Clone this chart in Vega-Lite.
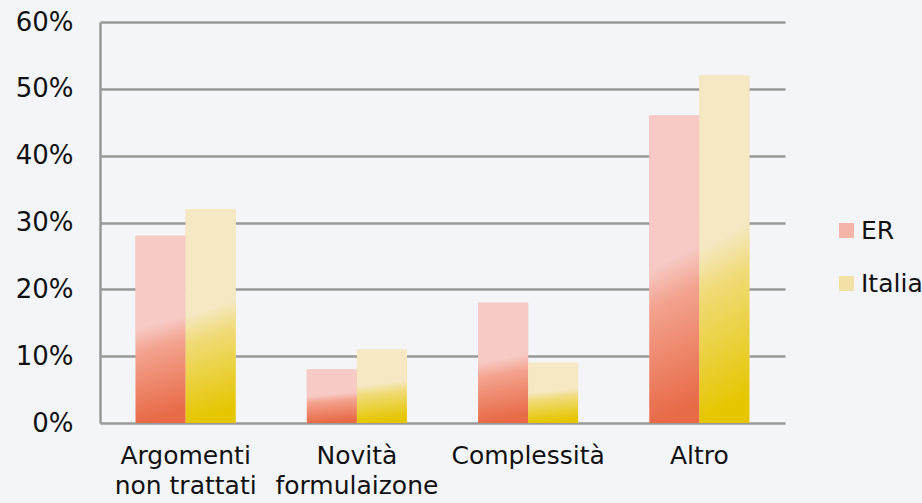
{
  "$schema": "https://vega.github.io/schema/vega-lite/v6.json",
  "width": 685,
  "height": 401,
  "autosize": {"type": "none"},
  "padding": {"left": 100, "top": 22, "right": 137, "bottom": 80},
  "background": "#f4f5f8",
  "data": {
    "values": [
      {"cat": "Argomenti|non trattati", "series": "ER", "value": 28},
      {"cat": "Argomenti|non trattati", "series": "Italia", "value": 32},
      {"cat": "Novità|formulaizone", "series": "ER", "value": 8},
      {"cat": "Novità|formulaizone", "series": "Italia", "value": 11},
      {"cat": "Complessità", "series": "ER", "value": 18},
      {"cat": "Complessità", "series": "Italia", "value": 9},
      {"cat": "Altro", "series": "ER", "value": 46},
      {"cat": "Altro", "series": "Italia", "value": 52}
    ]
  },
  "config": {
    "view": {"stroke": null},
    "font": "DejaVu Sans"
  },
  "encoding": {
    "x": {
      "field": "cat",
      "type": "nominal",
      "sort": null,
      "scale": {"paddingInner": 0.416, "paddingOuter": 0.208},
      "axis": {
        "title": null,
        "labelAngle": 0,
        "labelExpr": "split(datum.label, '|')",
        "labelFontSize": 25,
        "labelColor": "#111111",
        "labelPadding": 20,
        "labelLineHeight": 30,
        "ticks": false,
        "domain": false,
        "labelFont": "DejaVu Sans"
      }
    },
    "xOffset": {"field": "series", "type": "nominal", "scale": {"paddingInner": 0, "paddingOuter": 0}},
    "y": {
      "field": "value",
      "type": "quantitative",
      "scale": {"domain": [0, 60], "nice": false},
      "axis": {
        "title": null,
        "values": [0, 10, 20, 30, 40, 50, 60],
        "labelExpr": "datum.value + '%'",
        "labelFontSize": 26,
        "labelColor": "#111111",
        "labelPadding": 27,
        "ticks": false,
        "domain": true,
        "domainColor": "#999999",
        "domainWidth": 2.5,
        "grid": true,
        "gridColor": "#999999",
        "gridWidth": 2.5,
        "labelFont": "DejaVu Sans"
      }
    }
  },
  "layer": [
    {
      "mark": {"type": "bar"},
      "encoding": {
        "color": {
          "field": "series",
          "type": "nominal",
          "scale": {"domain": ["ER", "Italia"], "range": ["#f5b4a8", "#f2e0a6"]},
          "legend": {
            "title": null,
            "orient": "none",
            "legendX": 734,
            "legendY": 196,
            "padding": 0,
            "symbolType": "square",
            "symbolSize": 225,
            "symbolStrokeWidth": 0,
            "symbolOpacity": 1,
            "labelFontSize": 25,
            "labelColor": "#111111",
            "labelOffset": 2,
            "rowPadding": 27,
            "labelFont": "DejaVu Sans"
          }
        }
      }
    },
    {
      "mark": {"type": "bar"},
      "encoding": {
        "fill": {
          "condition": {
            "test": "datum.series === 'ER'",
            "value": {
              "gradient": "linear",
              "x1": 0, "y1": 0, "x2": 0.08, "y2": 1,
              "stops": [
                {"offset": 0, "color": "#f7cac5"},
                {"offset": 0.5, "color": "#f7cac5"},
                {"offset": 0.63, "color": "#f3a28e"},
                {"offset": 1, "color": "#e86b48"}
              ]
            }
          },
          "value": {
            "gradient": "linear",
            "x1": 0, "y1": 0, "x2": 0.08, "y2": 1,
            "stops": [
              {"offset": 0, "color": "#f5e8c3"},
              {"offset": 0.5, "color": "#f5e8c3"},
              {"offset": 0.63, "color": "#f0db78"},
              {"offset": 1, "color": "#e5c600"}
            ]
          }
        }
      }
    }
  ]
}
